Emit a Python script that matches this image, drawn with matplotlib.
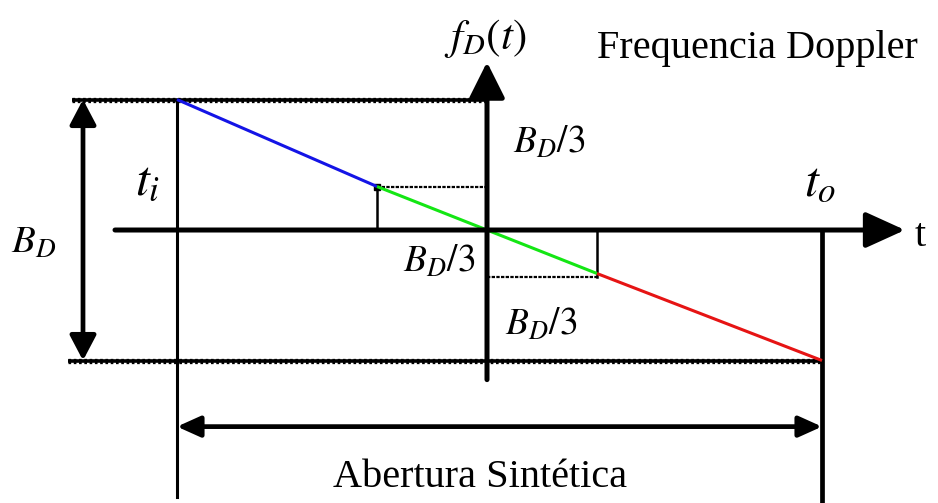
import numpy as np
import matplotlib
matplotlib.use("Agg")
import matplotlib.pyplot as plt

plt.rcParams['mathtext.fontset'] = 'stix'
plt.rcParams['font.family'] = ['Liberation Serif', 'DejaVu Serif']

# Doppler frequency ramp: B_D = 3, split in three equal parts
t_break = [-3.1, -1.1, 1.1, 3.35]   # t_i, 1/3, 2/3, t_o
f_break = [1.5, 0.5, -0.5, -1.5]
seg_colors = ['#1414e6', '#14e614', '#e61414']
BD = 3.0

fig = plt.figure(figsize=(9.38, 5.03), dpi=100)
ax = fig.add_axes([0, 0, 1, 1])
ax.set_xlim(-4.87, 4.51)
ax.set_ylim(-3.138, 2.644)
ax.axis('off')

t_i, t_o = t_break[0], t_break[-1]

def arrow(x0, y0, x1, y1, lw, ms, hl, hw, style='-|>'):
    ax.annotate('', xy=(x1, y1), xytext=(x0, y0),
                arrowprops=dict(arrowstyle=f'{style},head_length={hl},head_width={hw}',
                                mutation_scale=ms, lw=lw, color='black',
                                shrinkA=0, shrinkB=0))

def thick_dotted(x, y):
    ax.plot(x, y, color='black', lw=2.6, solid_capstyle='butt')
    ax.plot(x, y, color='black', lw=3.8, ls=(0, (0.5, 0.5)))

# band limits (top and bottom)
thick_dotted([-4.15, 0], [BD / 2, BD / 2])
thick_dotted([-4.19, t_o], [-BD / 2, -BD / 2])

# axes
arrow(-3.72, 0, 4.18, 0, 3.6, 22, 1.1, 0.5)
arrow(0, -1.72, 0, 1.93, 3.6, 22, 1.0, 0.5)

# t_i and t_o verticals
ax.plot([t_i, t_i], [BD / 2, -3.07], color='black', lw=2.2)
ax.plot([t_o, t_o], [0, -3.2], color='black', lw=3.4)

# B_D double arrow
arrow(-4.04, BD / 2, -4.04, -BD / 2, 3.4, 16, 0.95, 0.5, style='<|-|>')
# synthetic aperture double arrow
arrow(t_i, -2.26, t_o, -2.26, 3.4, 14, 1.0, 0.45, style='<|-|>')

# one-third helper boxes
ax.plot([t_break[1], 0], [f_break[1], f_break[1]], color='black', lw=1.6, ls=(0, (1.5, 0.6)))
ax.plot([t_break[1], t_break[1]], [0, f_break[1]], color='black', lw=1.8)
ax.plot([t_break[1]], [f_break[1]], marker='s', ms=4, color='black')
ax.plot([0, t_break[2]], [-0.54, -0.54], color='black', lw=1.6, ls=(0, (1.5, 0.6)))
ax.plot([t_break[2], t_break[2]], [0, -0.54], color='black', lw=1.8)

# frequency ramp, coloured per third
for k in range(3):
    ax.plot(t_break[k:k + 2], f_break[k:k + 2], color=seg_colors[k], lw=2.2,
            solid_capstyle='butt')

# labels
ax.text(-0.02, 2.2, r'$f_D(t)$', fontsize=31, ha='center', va='center')
ax.text(1.1, 1.98, 'Frequencia Doppler', fontsize=29, ha='left', va='baseline')
ax.text(0.26, 1.0, r'$B_D/3$', fontsize=27, ha='left', va='center')
ax.text(-0.12, -0.37, r'$B_D/3$', fontsize=27, ha='right', va='center')
ax.text(0.18, -1.09, r'$B_D/3$', fontsize=27, ha='left', va='center')
ax.text(-3.52, 0.55, r'$t_i$', fontsize=36, ha='left', va='center')
ax.text(3.17, 0.54, r'$t_o$', fontsize=36, ha='left', va='center')
ax.text(-4.76, -0.15, r'$B_D$', fontsize=28, ha='left', va='center')
ax.text(4.28, -0.07, 't', fontsize=29, ha='left', va='center')
ax.text(-0.07, -2.85, 'Abertura Sintética', fontsize=29, ha='center', va='center')

fig.savefig('out.png', dpi=100)
